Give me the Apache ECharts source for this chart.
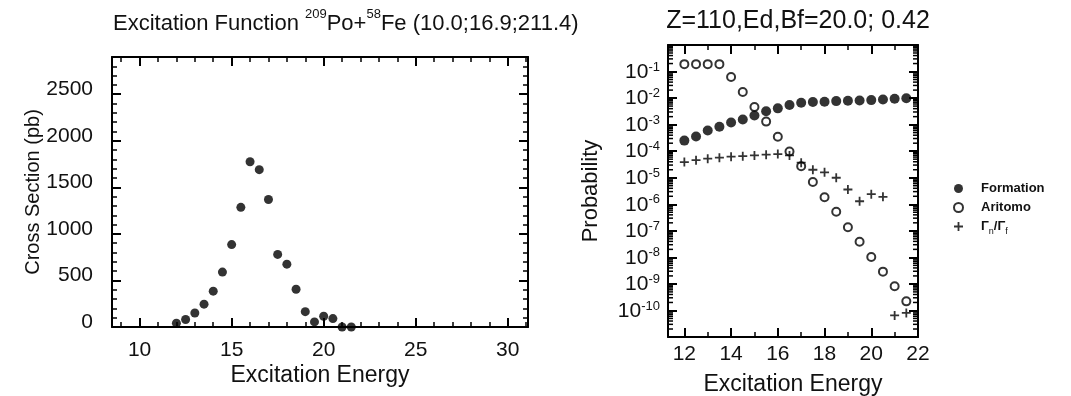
<!DOCTYPE html>
<html>
<head>
<meta charset="utf-8">
<script src="https://cdn.jsdelivr.net/npm/echarts@6/dist/echarts.min.js"></script>
<style>
  html, body { margin: 0; padding: 0; background: #fff; }
  #chart { width: 1071px; height: 396px; }
</style>
</head>
<body>
<div id="chart"></div>
<script>
// excitation energies shared by both panels
const energies = [12, 12.5, 13, 13.5, 14, 14.5, 15, 15.5, 16, 16.5, 17, 17.5, 18, 18.5, 19, 19.5, 20, 20.5, 21, 21.5];

// left panel: cross section (pb)
const crossSection = [40, 80, 150, 245, 385, 590, 885, 1285, 1775, 1690, 1370, 780, 675, 405, 165, 55, 115, 90, 0, 0];

// right panel: probabilities
const formation = [2.5e-4, 3.6e-4, 6e-4, 8.3e-4, 1.2e-3, 1.55e-3, 2.2e-3, 3.2e-3, 4.1e-3, 5.5e-3, 6.7e-3, 7.1e-3, 7.3e-3, 7.7e-3, 7.9e-3, 8.1e-3, 8.4e-3, 8.9e-3, 9.5e-3, 9.8e-3];
const aritomo = [0.19, 0.19, 0.19, 0.19, 0.062, 0.017, 4.6e-3, 1.3e-3, 3.5e-4, 9.8e-5, 2.7e-5, 6.9e-6, 1.85e-6, 5.2e-7, 1.37e-7, 3.9e-8, 1.03e-8, 2.9e-9, 8.1e-10, 2.2e-10];
const gammaRatio = [3.9e-5, 4.6e-5, 5.2e-5, 5.7e-5, 6.2e-5, 6.5e-5, 6.9e-5, 7.4e-5, 7.8e-5, 6.9e-5, 3.7e-5, 2.0e-5, 1.6e-5, 1.0e-5, 3.6e-6, 1.3e-6, 2.4e-6, 1.9e-6, 6.5e-11, 8.1e-11];

const seriesNames = ['Formation', 'Aritomo', 'Gamma'];

// axis ranges
const leftX = [8.5, 31.1];
const leftY = [0, 2900];
const rightX = [11.3, 22];
const rightY = [1e-11, 1];

const font = 'Liberation Sans, Arial, Helvetica, sans-serif';
const ink = '#111';
const plus = 'path://M4 0H6V4H10V6H6V10H4V6H0V4H4Z';

const pair = (ys) => energies.map((e, i) => [e, ys[i]]);

// minor ticks of the log axis (2..9 of each decade), drawn on both frame edges
const logMinor = [];
for (let e = -11; e < 0; e++) {
  for (let k = 2; k <= 9; k++) {
    logMinor.push([rightX[0], k * Math.pow(10, e)]);
    logMinor.push([rightX[1], k * Math.pow(10, e)]);
  }
}

const lineStyle = { color: '#000', width: 2 };
const minorStyle = { color: '#000', width: 1.5 };

function xAxisFor(gridIndex, range, pos, withLabels, minorSplit, name, nameGap, labelMargin) {
  return {
    type: 'value',
    gridIndex,
    position: pos,
    min: range[0],
    max: range[1],
    splitNumber: 5,
    name: withLabels ? name : '',
    nameLocation: 'middle',
    nameGap,
    nameMoveOverlap: false,
    nameTextStyle: { fontFamily: font, fontSize: 23, color: ink },
    axisLine: { show: true, onZero: false, lineStyle },
    axisTick: { show: true, inside: true, length: 9, lineStyle },
    minorTick: { show: true, splitNumber: minorSplit, length: 5, lineStyle: minorStyle },
    splitLine: { show: false },
    axisLabel: {
      show: withLabels,
      showMinLabel: false,
      fontFamily: font,
      fontSize: 21,
      color: ink,
      margin: labelMargin
    }
  };
}

const chart = echarts.init(document.getElementById('chart'), null, { renderer: 'canvas' });

chart.setOption({
  animation: false,
  backgroundColor: '#fff',
  title: [
    {
      left: 108,
      top: 3,
      text: '{t|Excitation Function }{s|209}{t|Po+}{s|58}{t|Fe (10.0;16.9;211.4)}',
      textStyle: {
        fontWeight: 'normal',
        rich: {
          t: { fontFamily: font, fontSize: 22, fontWeight: 'normal', color: ink, verticalAlign: 'bottom', lineHeight: 27 },
          s: { fontFamily: font, fontSize: 13, fontWeight: 'normal', color: ink, verticalAlign: 'top', lineHeight: 27 }
        }
      }
    },
    {
      left: 793,
      top: 4,
      textAlign: 'center',
      text: 'Z=110,Ed,Bf=20.0; 0.42',
      textStyle: { fontFamily: font, fontSize: 25, fontWeight: 'normal', color: ink }
    }
  ],
  legend: {
    orient: 'vertical',
    left: 948,
    top: 177,
    itemGap: 6,
    itemWidth: 9,
    itemHeight: 9,
    data: seriesNames,
    formatter: (name) => {
      if (name === 'Gamma') return '{p|Γ}{s|n}{t|/Γ}{s|f}';
      return '{p|' + name + '}';
    },
    textStyle: {
      rich: {
        p: { fontFamily: font, fontSize: 13, fontWeight: 'bold', color: ink, padding: [0, 0, 0, 13] },
        t: { fontFamily: font, fontSize: 13, fontWeight: 'bold', color: ink },
        s: { fontFamily: font, fontSize: 9, color: ink, verticalAlign: 'bottom', lineHeight: 19 }
      }
    }
  },
  grid: [
    { left: 112, top: 57, width: 416, height: 270, outerBoundsMode: 'none' },
    { left: 668, top: 45, width: 250, height: 292, outerBoundsMode: 'none' }
  ],
  xAxis: [
    xAxisFor(0, leftX, 'bottom', true, 5, 'Excitation Energy', 37, 13),
    xAxisFor(0, leftX, 'top', false, 5, '', 0, 0),
    xAxisFor(1, rightX, 'bottom', true, 2, 'Excitation Energy', 36, 7),
    xAxisFor(1, rightX, 'top', false, 2, '', 0, 0)
  ],
  yAxis: [
    {
      type: 'value',
      gridIndex: 0,
      position: 'left',
      min: leftY[0],
      max: leftY[1],
      interval: 500,
      name: 'Cross Section (pb)',
      nameLocation: 'middle',
      nameGap: 69,
      nameMoveOverlap: false,
      nameTextStyle: { fontFamily: font, fontSize: 20, color: ink },
      axisLine: { show: true, onZero: false, lineStyle },
      axisTick: { show: true, inside: true, length: 9, lineStyle },
      minorTick: { show: true, splitNumber: 5, length: 5, lineStyle: minorStyle },
      splitLine: { show: false },
      axisLabel: {
        showMaxLabel: false,
        fontFamily: font,
        fontSize: 21,
        color: ink,
        margin: 19,
        verticalAlign: 'bottom',
        lineHeight: 10,
        formatter: (v) => String(v)
      }
    },
    {
      type: 'value',
      gridIndex: 0,
      position: 'right',
      min: leftY[0],
      max: leftY[1],
      interval: 500,
      axisLine: { show: true, onZero: false, lineStyle },
      axisTick: { show: true, inside: true, length: 9, lineStyle },
      minorTick: { show: true, splitNumber: 5, length: 5, lineStyle: minorStyle },
      splitLine: { show: false },
      axisLabel: { show: false }
    },
    {
      type: 'log',
      logBase: 10,
      gridIndex: 1,
      position: 'left',
      min: rightY[0],
      max: rightY[1],
      interval: 1,
      name: 'Probability',
      nameLocation: 'middle',
      nameGap: 66,
      nameMoveOverlap: false,
      nameTextStyle: { fontFamily: font, fontSize: 22, color: ink },
      axisLine: { show: true, onZero: false, lineStyle },
      axisTick: { show: true, inside: true, length: 9, lineStyle },
      splitLine: { show: false },
      axisLabel: {
        showMinLabel: false,
        showMaxLabel: false,
        margin: 8,
        formatter: (v) => '{b|10}{s|' + Math.round(Math.log10(v)) + '}',
        rich: {
          b: { fontFamily: font, fontSize: 21, color: ink, verticalAlign: 'bottom', lineHeight: 22 },
          s: { fontFamily: font, fontSize: 13, color: ink, verticalAlign: 'top', lineHeight: 22 }
        }
      }
    },
    {
      type: 'log',
      logBase: 10,
      gridIndex: 1,
      position: 'right',
      min: rightY[0],
      max: rightY[1],
      interval: 1,
      axisLine: { show: true, onZero: false, lineStyle },
      axisTick: { show: true, inside: true, length: 9, lineStyle },
      splitLine: { show: false },
      axisLabel: { show: false }
    }
  ],
  series: [
    {
      name: 'Cross Section',
      type: 'scatter',
      xAxisIndex: 0,
      yAxisIndex: 0,
      symbol: 'circle',
      symbolSize: 9,
      itemStyle: { color: '#000' },
      data: pair(crossSection)
    },
    {
      name: 'Formation',
      type: 'scatter',
      xAxisIndex: 2,
      yAxisIndex: 2,
      symbol: 'circle',
      symbolSize: 10,
      itemStyle: { color: '#000' },
      data: pair(formation)
    },
    {
      name: 'Aritomo',
      type: 'scatter',
      xAxisIndex: 2,
      yAxisIndex: 2,
      symbol: 'circle',
      symbolSize: 8,
      itemStyle: { color: 'rgba(255,255,255,0)', borderColor: '#000', borderWidth: 2 },
      data: pair(aritomo)
    },
    {
      name: 'Gamma',
      type: 'scatter',
      xAxisIndex: 2,
      yAxisIndex: 2,
      symbol: plus,
      symbolSize: 9,
      itemStyle: { color: '#000' },
      data: pair(gammaRatio)
    },
    {
      name: 'logMinor',
      type: 'custom',
      xAxisIndex: 2,
      yAxisIndex: 2,
      silent: true,
      clip: false,
      data: logMinor,
      renderItem: (params, api) => {
        const x = api.value(0);
        const p = api.coord([x, api.value(1)]);
        const dir = x === rightX[0] ? 1 : -1;
        return {
          type: 'line',
          shape: { x1: p[0], y1: p[1], x2: p[0] + dir * 5, y2: p[1] },
          style: { stroke: '#000', lineWidth: 1.5 }
        };
      }
    }
  ]
});

window.addEventListener('resize', () => chart.resize());
</script>
</body>
</html>
